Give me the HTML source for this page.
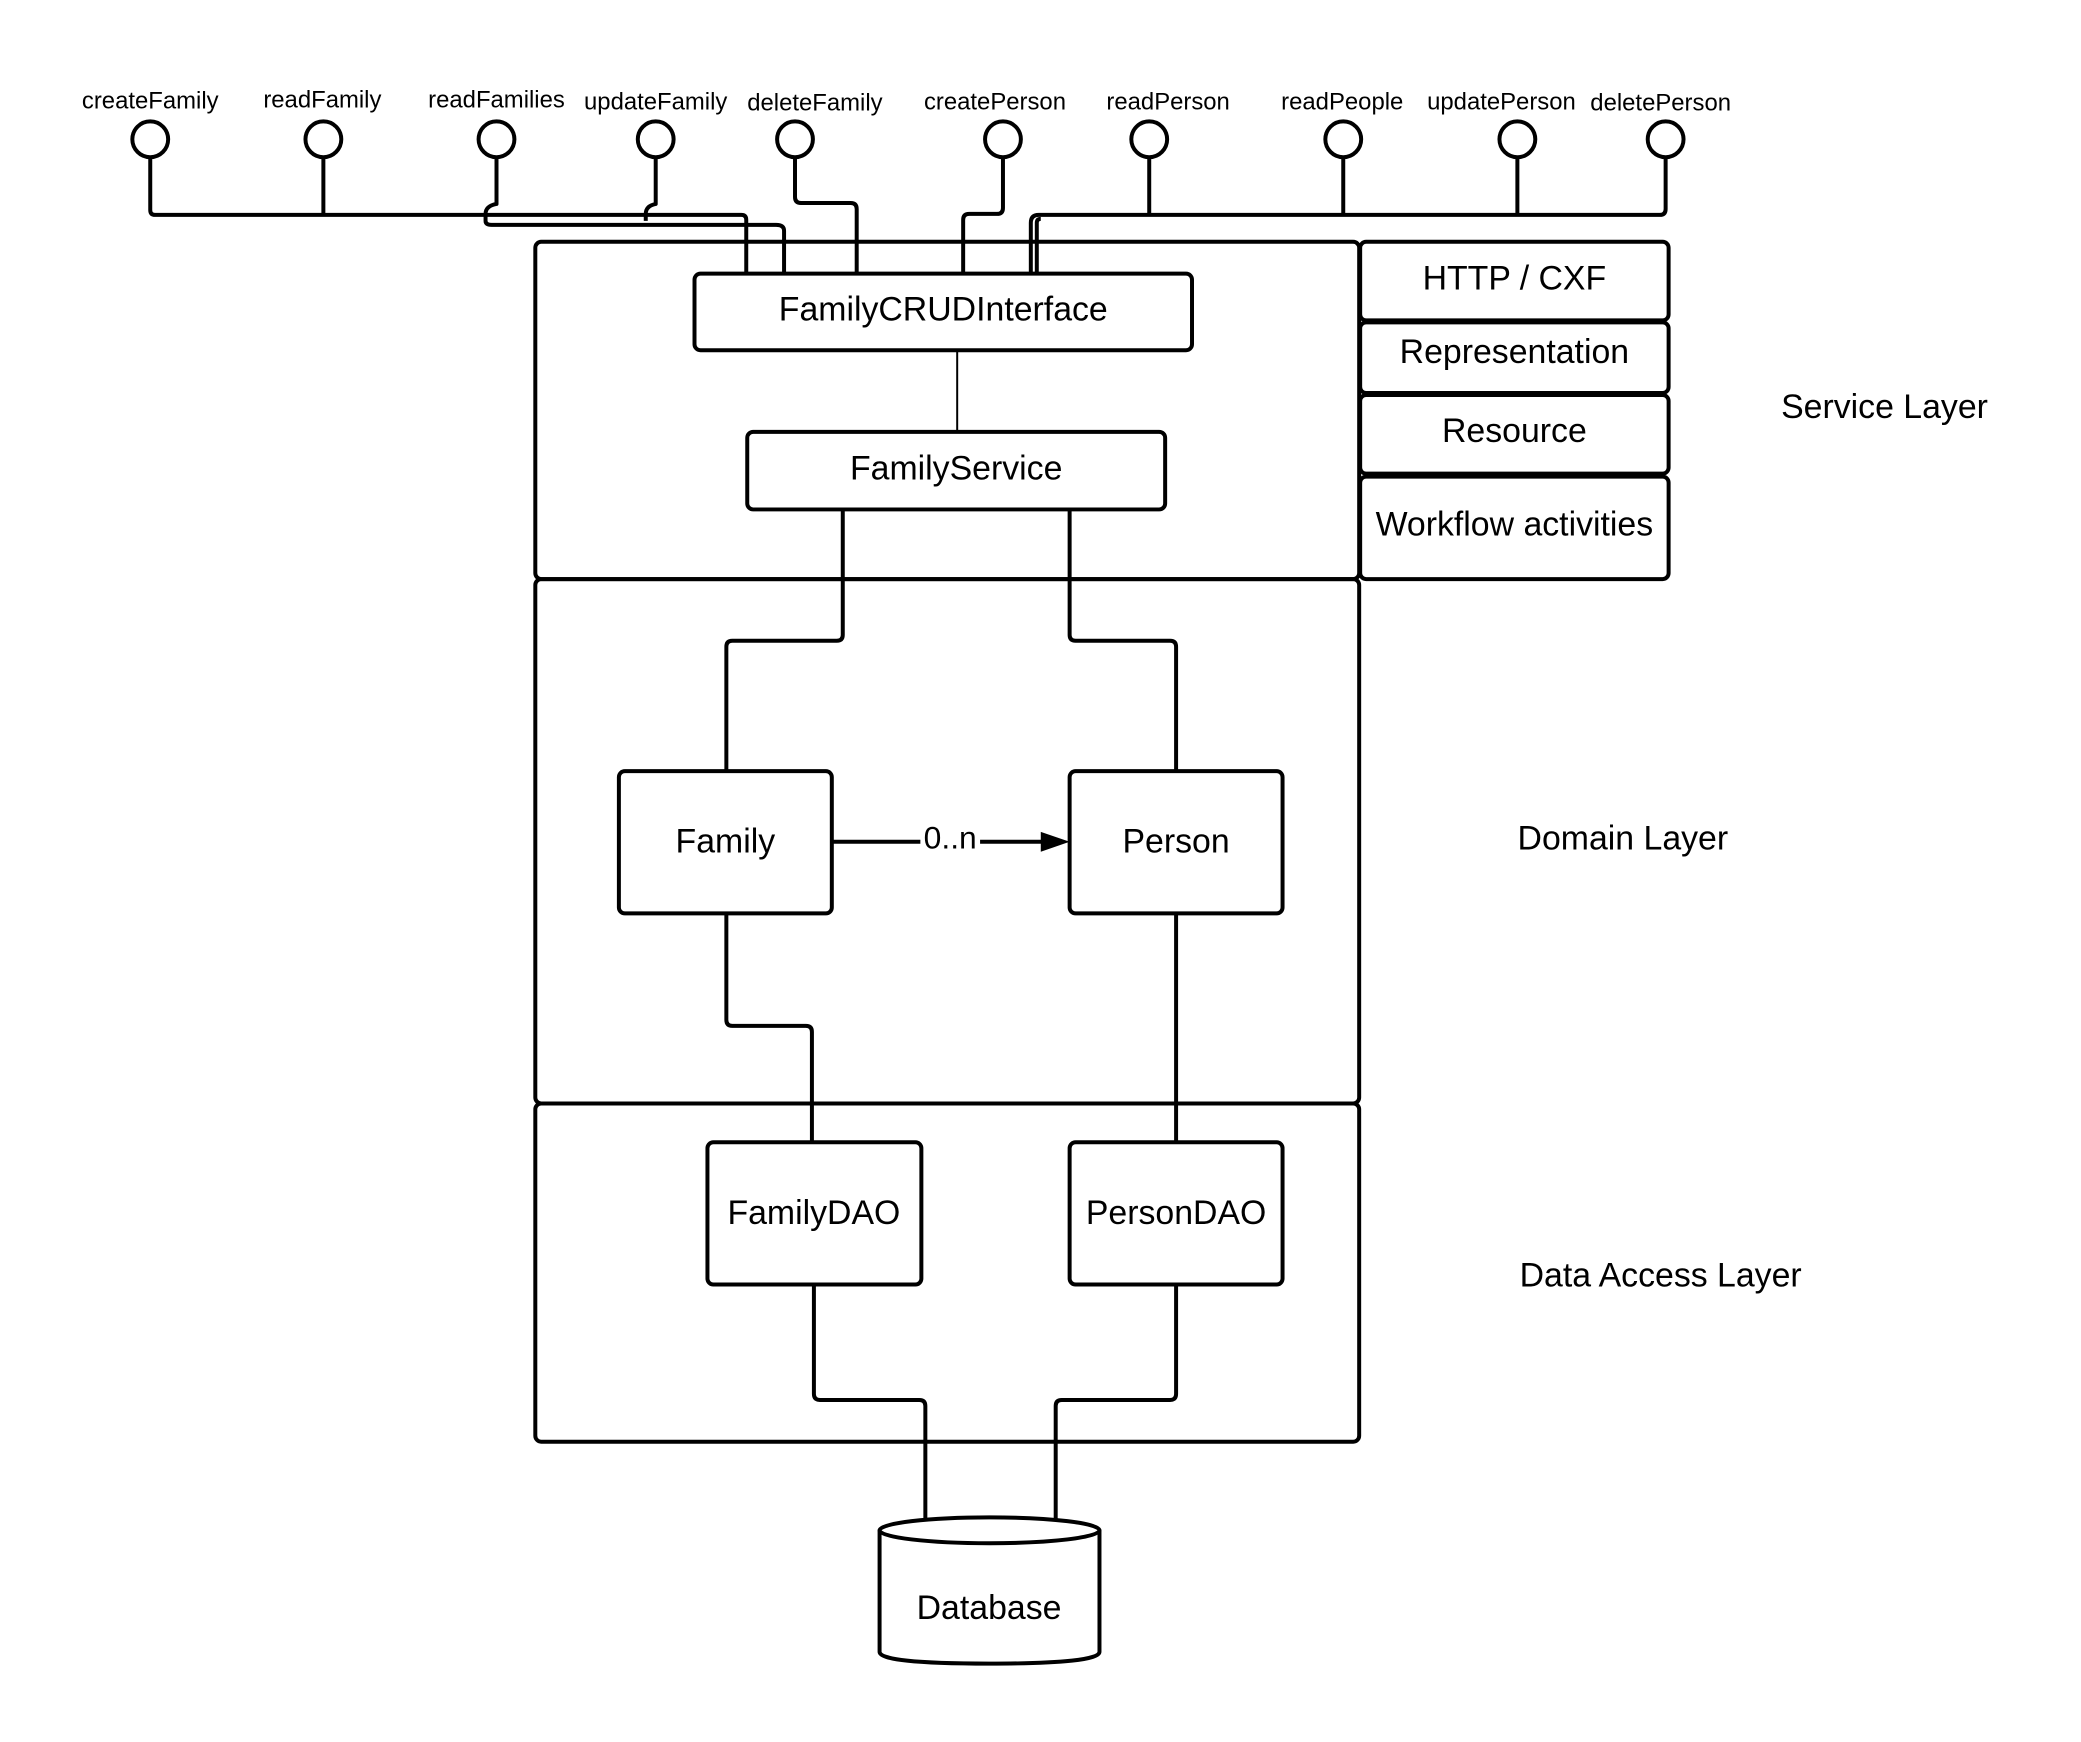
<!DOCTYPE html>
<html><head><meta charset="utf-8"><style>
html,body{margin:0;padding:0;background:#fff;}
svg{display:block;}
text{font-family:"Liberation Sans",Arial,sans-serif;fill:#000;}
</style></head><body>
<svg width="2081" height="1742" viewBox="0 0 2081 1742" xmlns="http://www.w3.org/2000/svg">
<rect width="2081" height="1742" fill="#fff"/>
<g transform="scale(0.995)">
<g font-size="24" text-anchor="middle">
<text x="151" y="109">createFamily</text>
<text x="324" y="108">readFamily</text>
<text x="499" y="108">readFamilies</text>
<text x="659" y="110">updateFamily</text>
<text x="819" y="111">deleteFamily</text>
<text x="1000" y="110">createPerson</text>
<text x="1174" y="110">readPerson</text>
<text x="1349" y="110">readPeople</text>
<text x="1509" y="110">updatePerson</text>
<text x="1669" y="111">deletePerson</text>
</g>
<g fill="#fff" stroke="#000" stroke-width="4">
<circle cx="151" cy="140" r="18"/>
<circle cx="325" cy="140" r="18"/>
<circle cx="499" cy="140" r="18"/>
<circle cx="659" cy="140" r="18"/>
<circle cx="799" cy="140" r="18"/>
<circle cx="1008" cy="140" r="18"/>
<circle cx="1155" cy="140" r="18"/>
<circle cx="1350" cy="140" r="18"/>
<circle cx="1525" cy="140" r="18"/>
<circle cx="1674" cy="140" r="18"/>
</g>
<g fill="none" stroke="#000" stroke-width="4" stroke-linejoin="round">
<path d="M151 158 V211 Q151 216 156 216 H745 Q750 216 750 221 V275"/>
<path d="M325 158 V216"/>
<path d="M499 158 V205 Q488 207 488 215 V222 Q488 226 494 226 H780 Q788 226 788 232 V275"/>
<path d="M659 158 V205 Q649 207 649 215 V222"/>
<path d="M799 158 V198 Q799 204 805 204 H855 Q861 204 861 210 V275"/>
<path d="M1008 158 V209 Q1008 215 1002 215 H974 Q968 215 968 221 V275"/>
<path d="M1674 158 V210 Q1674 216 1668 216 H1044 Q1036 216 1036 224 V275"/>
<path d="M1042 275 V224 Q1042 220 1046 220"/>
<path d="M1155 158 V216"/><path d="M1350 158 V216"/><path d="M1525 158 V216"/>
<rect x="538" y="243" width="828" height="339" rx="6"/>
<rect x="538" y="582" width="828" height="527" rx="6"/>
<rect x="538" y="1109" width="828" height="340" rx="6"/>
<rect x="1367" y="243" width="310" height="79" rx="6"/>
<rect x="1367" y="324" width="310" height="71" rx="6"/>
<rect x="1367" y="397" width="310" height="79" rx="6"/>
<rect x="1367" y="479" width="310" height="103" rx="6"/>
<rect x="698" y="275" width="500" height="77" rx="6" fill="#fff"/>
<rect x="751" y="434" width="420" height="78" rx="6"/>
<rect x="622" y="775" width="214" height="143" rx="6"/>
<rect x="1075" y="775" width="214" height="143" rx="6"/>
<rect x="711" y="1148" width="215" height="143" rx="6"/>
<rect x="1075" y="1148" width="214" height="143" rx="6"/>
<path d="M847 512 V638 Q847 644 841 644 H736 Q730 644 730 650 V775"/>
<path d="M1075 512 V638 Q1075 644 1081 644 H1176 Q1182 644 1182 650 V775"/>
<path d="M730 918 V1025 Q730 1031 736 1031 H810 Q816 1031 816 1037 V1148"/>
<path d="M1182 918 V1148"/>
<path d="M818 1291 V1401 Q818 1407 824 1407 H924 Q930 1407 930 1413 V1530"/>
<path d="M1182 1291 V1401 Q1182 1407 1176 1407 H1067 Q1061 1407 1061 1413 V1528"/>
<path d="M836 846 H1055"/>
<path d="M884 1538 V1660 Q884 1672 994 1672 Q1105 1672 1105 1660 V1538"/>
<ellipse cx="994.5" cy="1538" rx="110.5" ry="13" fill="#fff"/>
</g>
<path d="M962 352 V434" stroke="#000" stroke-width="2"/>
<polygon points="1075,846 1046,836 1046,856" fill="#000"/>
<rect x="925" y="828" width="60" height="28" fill="#fff"/>
<g font-size="34" text-anchor="middle">
<text x="948" y="322">FamilyCRUDInterface</text>
<text x="961" y="482">FamilyService</text>
<text x="1522" y="291">HTTP / CXF</text>
<text x="1522" y="365">Representation</text>
<text x="1522" y="444">Resource</text>
<text x="1522" y="538">Workflow activities</text>
<text x="729" y="857">Family</text>
<text x="1182" y="857">Person</text>
<text x="955" y="853" font-size="32">0..n</text>
<text x="818" y="1230">FamilyDAO</text>
<text x="1182" y="1230">PersonDAO</text>
<text x="994" y="1627">Database</text>
<text x="1894" y="420">Service Layer</text>
<text x="1631" y="854">Domain Layer</text>
<text x="1669" y="1293">Data Access Layer</text>
</g>
</g>
</svg>
</body></html>
